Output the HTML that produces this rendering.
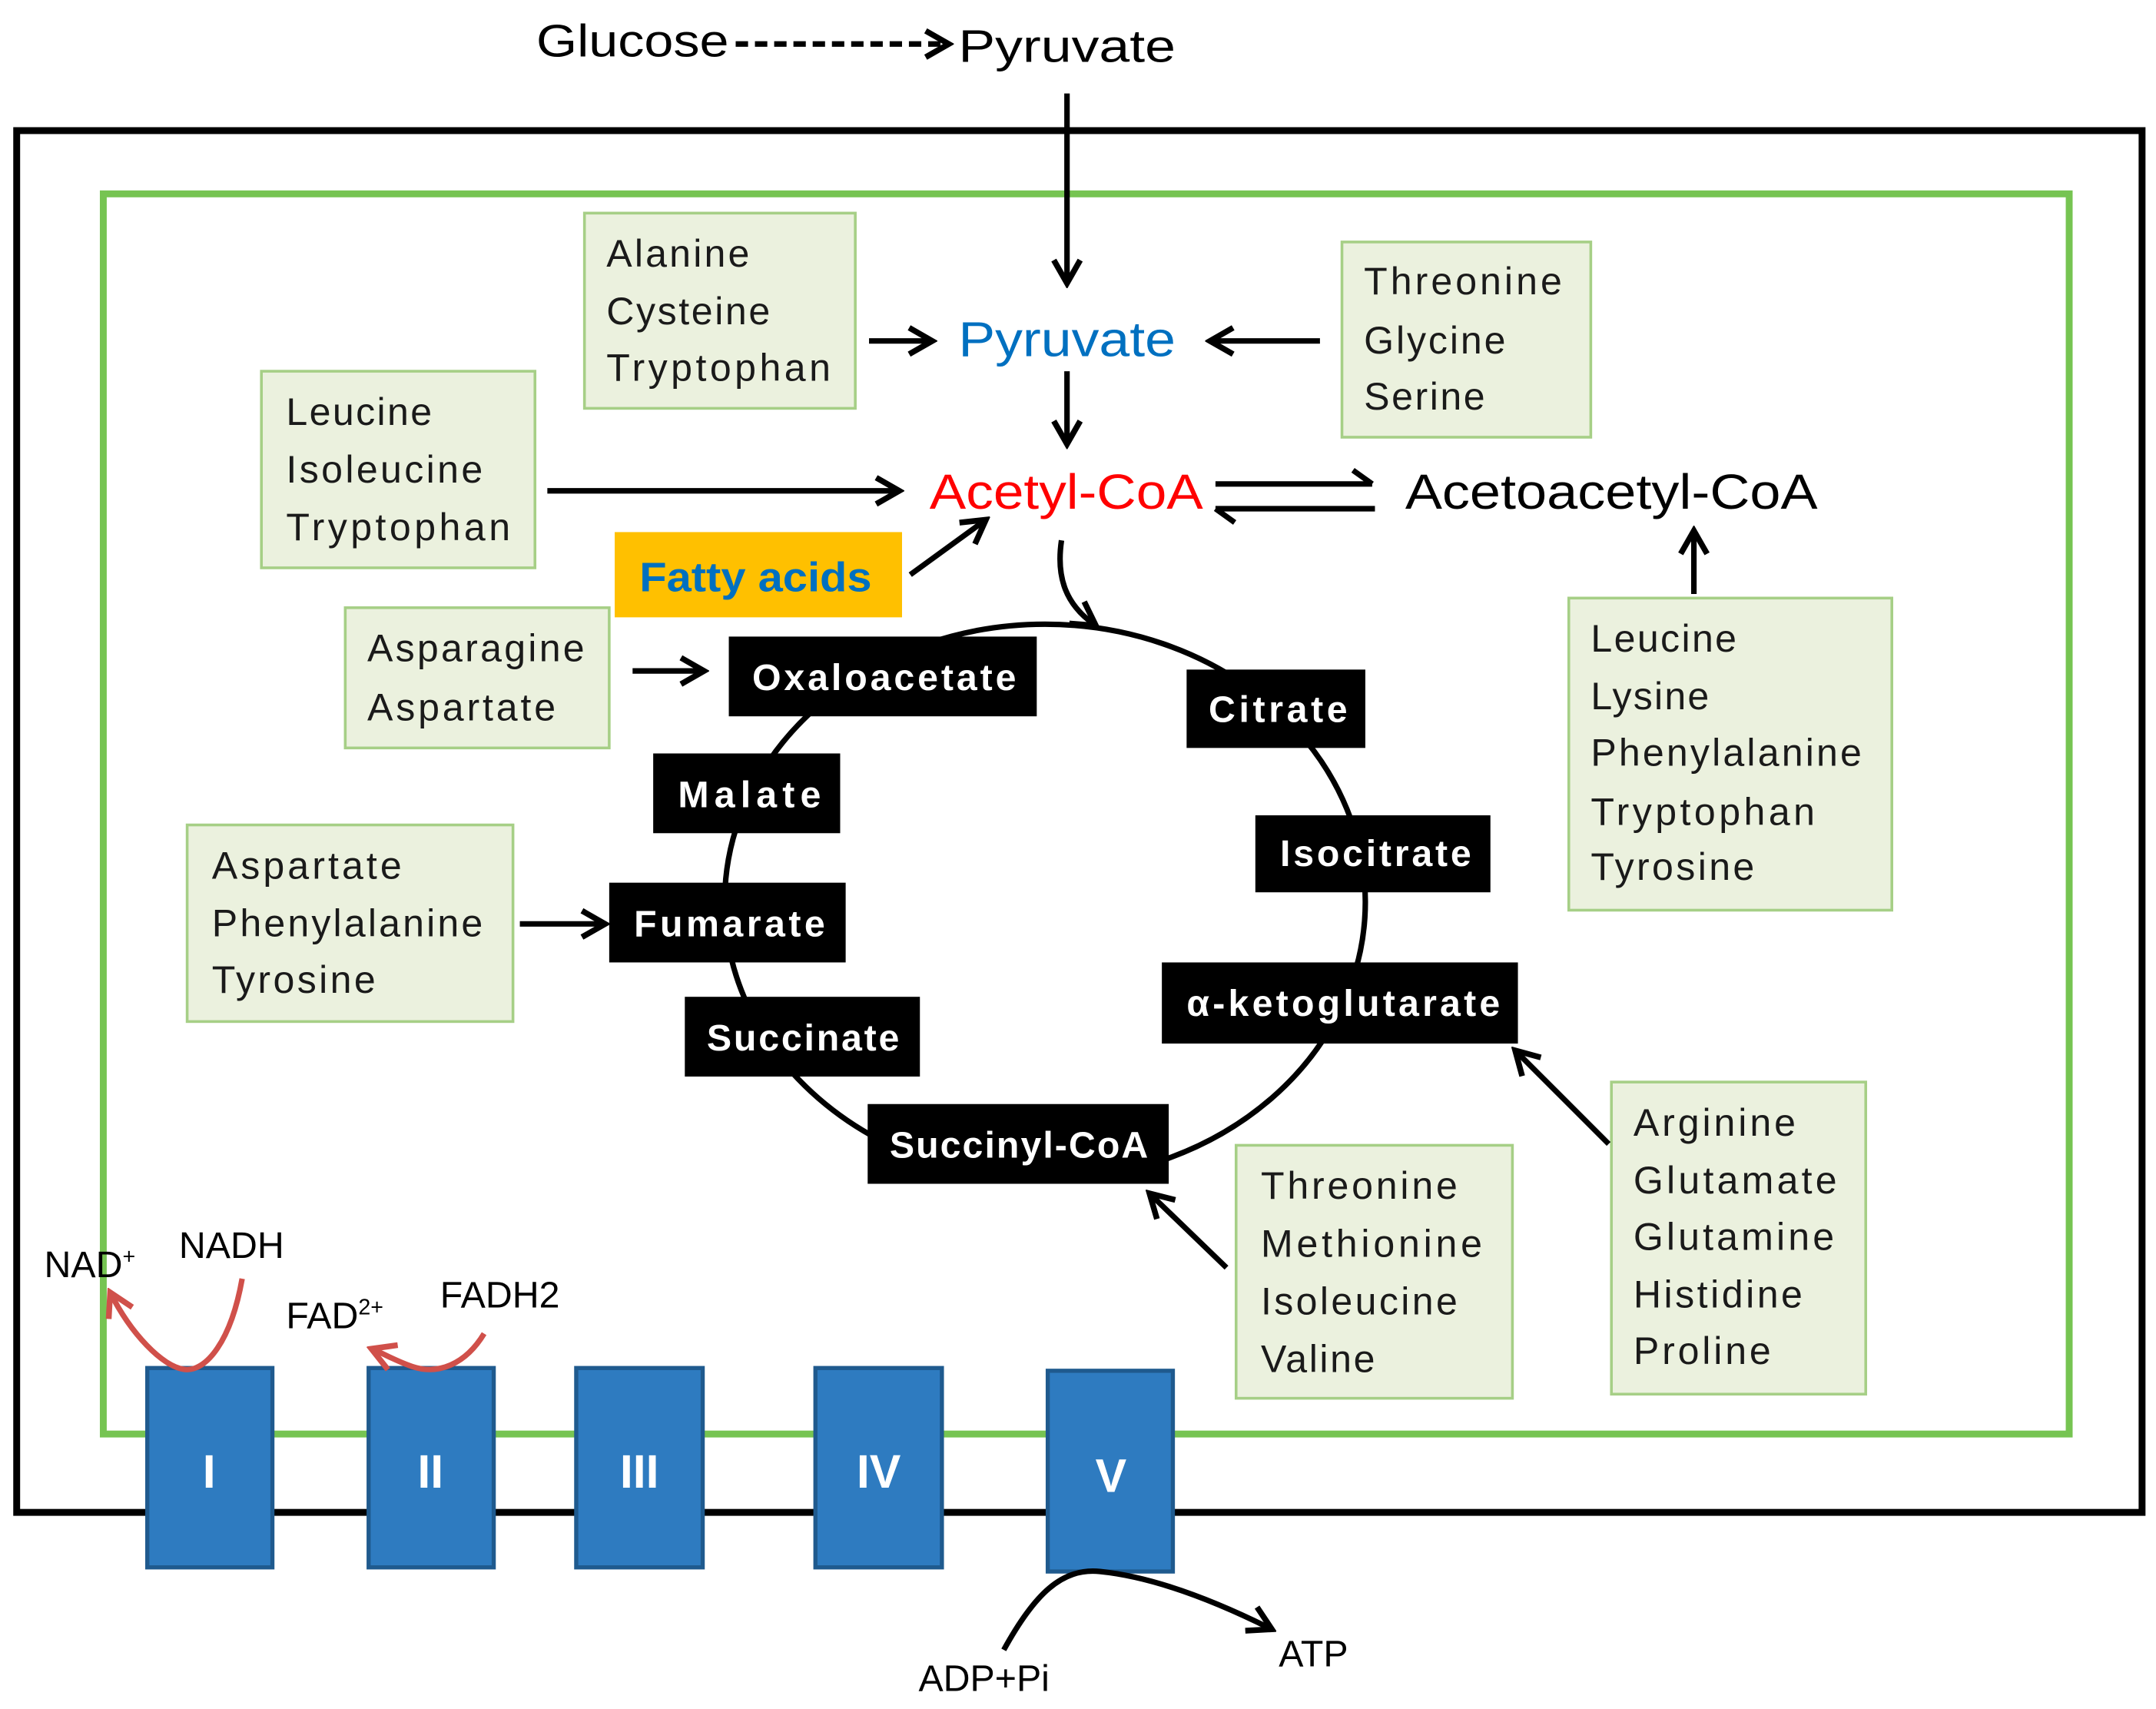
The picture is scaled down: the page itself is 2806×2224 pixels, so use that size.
<!DOCTYPE html>
<html><head><meta charset="utf-8"><style>html,body{margin:0;padding:0;background:#fff}svg{display:block}</style></head>
<body>
<svg width="2806" height="2224" viewBox="0 0 1568 1243" xmlns="http://www.w3.org/2000/svg" font-family="Liberation Sans, sans-serif">
<defs>
<marker id="ab" viewBox="0 0 10 10" refX="8" refY="5" markerWidth="5" markerHeight="5" orient="auto" markerUnits="userSpaceOnUse" style="overflow:visible"><path d="M0,0 L9,5 L0,10" fill="none" stroke="#000" stroke-width="2"/></marker>
<marker id="a" viewBox="0 0 20 20" refX="17" refY="10" markerWidth="24" markerHeight="24" orient="auto" markerUnits="userSpaceOnUse"><path d="M3,2 L17,10 L3,18" fill="none" stroke="#000" stroke-width="3.5"/></marker>
<marker id="ar" viewBox="0 0 20 20" refX="17" refY="10" markerWidth="24" markerHeight="24" orient="auto" markerUnits="userSpaceOnUse"><path d="M3,2 L17,10 L3,18" fill="none" stroke="#d0504a" stroke-width="3.5"/></marker>
</defs>
<rect width="1568" height="1243" fill="#fff"/>
<!-- top -->
<text x="390" y="41" font-size="33" textLength="140" lengthAdjust="spacingAndGlyphs">Glucose</text>
<line x1="535" y1="32" x2="690" y2="32" stroke="#000" stroke-width="4" stroke-dasharray="9,5" marker-end="url(#a)"/>
<text x="697" y="45" font-size="33" textLength="158" lengthAdjust="spacingAndGlyphs">Pyruvate</text>
<!-- outer -->
<rect x="12" y="95" width="1546" height="1005" fill="none" stroke="#000" stroke-width="5"/>
<rect x="75" y="141" width="1430" height="902" fill="none" stroke="#76c452" stroke-width="5"/>
<line x1="776" y1="68" x2="776" y2="206" stroke="#000" stroke-width="4" marker-end="url(#a)"/>
<!-- green boxes -->
<g fill="#ebf1de" stroke="#a6cf86" stroke-width="2">
<rect x="425" y="155" width="197" height="142"/>
<rect x="976" y="176" width="181" height="142"/>
<rect x="190" y="270" width="199" height="143"/>
<rect x="251" y="442" width="192" height="102"/>
<rect x="136" y="600" width="237" height="143"/>
<rect x="1141" y="435" width="235" height="227"/>
<rect x="899" y="833" width="201" height="184"/>
<rect x="1172" y="787" width="185" height="227"/>
</g>
<g font-size="28" fill="#1a1a1a" lengthAdjust="spacingAndGlyphs">
<text x="441" y="194" textLength="104">Alanine</text>
<text x="441" y="236" textLength="119">Cysteine</text>
<text x="441" y="277" textLength="163">Tryptophan</text>
<text x="992" y="214" textLength="144">Threonine</text>
<text x="992" y="257" textLength="103">Glycine</text>
<text x="992" y="298" textLength="88">Serine</text>
<text x="208" y="309" textLength="106">Leucine</text>
<text x="208" y="351" textLength="143">Isoleucine</text>
<text x="208" y="393" textLength="163">Tryptophan</text>
<text x="267" y="481" textLength="158">Asparagine</text>
<text x="267" y="524" textLength="137">Aspartate</text>
<text x="154" y="639" textLength="138">Aspartate</text>
<text x="154" y="681" textLength="197">Phenylalanine</text>
<text x="154" y="722" textLength="119">Tyrosine</text>
<text x="1157" y="474" textLength="106">Leucine</text>
<text x="1157" y="516" textLength="86">Lysine</text>
<text x="1157" y="557" textLength="197">Phenylalanine</text>
<text x="1157" y="600" textLength="163">Tryptophan</text>
<text x="1157" y="640" textLength="119">Tyrosine</text>
<text x="917" y="872" textLength="143">Threonine</text>
<text x="917" y="914" textLength="161">Methionine</text>
<text x="917" y="956" textLength="143">Isoleucine</text>
<text x="917" y="998" textLength="83">Valine</text>
<text x="1188" y="826" textLength="118">Arginine</text>
<text x="1188" y="868" textLength="148">Glutamate</text>
<text x="1188" y="909" textLength="146">Glutamine</text>
<text x="1188" y="951" textLength="123">Histidine</text>
<text x="1188" y="992" textLength="100">Proline</text>
</g>
<!-- main labels -->
<text x="697" y="259" font-size="36" fill="#0070c0" textLength="158" lengthAdjust="spacingAndGlyphs">Pyruvate</text>
<text x="676" y="370" font-size="36" fill="#ff0000" textLength="199" lengthAdjust="spacingAndGlyphs">Acetyl-CoA</text>
<text x="1022" y="370" font-size="36" fill="#000" textLength="300" lengthAdjust="spacingAndGlyphs">Acetoacetyl-CoA</text>
<rect x="447" y="387" width="209" height="62" fill="#ffc000"/>
<text x="465" y="430" font-size="30" font-weight="bold" fill="#0070c0" textLength="169" lengthAdjust="spacingAndGlyphs">Fatty acids</text>
<!-- arrows -->
<g stroke="#000" stroke-width="4" fill="none">
<line x1="632" y1="248" x2="678" y2="248" marker-end="url(#a)"/>
<line x1="960" y1="248" x2="880" y2="248" marker-end="url(#a)"/>
<line x1="776" y1="270" x2="776" y2="323" marker-end="url(#a)"/>
<line x1="398" y1="357" x2="654" y2="357" marker-end="url(#a)"/>
<line x1="662" y1="418" x2="717" y2="378" marker-end="url(#a)"/>
<path d="M884,352 L998,352 M984,342 L998,352 M884,370 L1000,370 M898,380 L884,370"/>
<path d="M772,393 C768,420 775,440 797,455" marker-end="url(#a)"/>
<line x1="460" y1="488" x2="512" y2="488" marker-end="url(#a)"/>
<line x1="378" y1="672" x2="440" y2="672" marker-end="url(#a)"/>
<line x1="1232" y1="432" x2="1232" y2="386" marker-end="url(#a)"/>
<line x1="1170" y1="832" x2="1102" y2="764" marker-end="url(#a)"/>
<line x1="892" y1="922" x2="836" y2="868" marker-end="url(#a)"/>
</g>
<!-- cycle -->
<ellipse cx="760" cy="656" rx="233" ry="202" fill="none" stroke="#000" stroke-width="4"/>
<g fill="#000">
<rect x="530" y="463" width="224" height="58"/>
<rect x="863" y="487" width="130" height="57"/>
<rect x="475" y="548" width="136" height="58"/>
<rect x="913" y="593" width="171" height="56"/>
<rect x="443" y="642" width="172" height="58"/>
<rect x="845" y="700" width="259" height="59"/>
<rect x="498" y="725" width="171" height="58"/>
<rect x="631" y="803" width="219" height="58"/>
</g>
<g font-size="27" font-weight="bold" fill="#fff" lengthAdjust="spacingAndGlyphs">
<text x="547" y="502" textLength="192">Oxaloacetate</text>
<text x="879" y="525" textLength="101">Citrate</text>
<text x="493" y="587" textLength="104">Malate</text>
<text x="931" y="630" textLength="139">Isocitrate</text>
<text x="461" y="681" textLength="139">Fumarate</text>
<text x="863" y="739" textLength="228">α-ketoglutarate</text>
<text x="514" y="764" textLength="140">Succinate</text>
<text x="647" y="842" textLength="188">Succinyl-CoA</text>
</g>
<!-- complexes -->
<g fill="#2e7bc0" stroke="#1f5a8e" stroke-width="3">
<rect x="107" y="995" width="91" height="145"/>
<rect x="268" y="995" width="91" height="145"/>
<rect x="419" y="995" width="92" height="145"/>
<rect x="593" y="995" width="92" height="145"/>
<rect x="762" y="997" width="91" height="146"/>
</g>
<g font-size="34" font-weight="bold" fill="#fff" text-anchor="middle">
<text x="152" y="1082">I</text>
<text x="313" y="1082">II</text>
<text x="465" y="1082">III</text>
<text x="639" y="1082">IV</text>
<text x="808" y="1085">V</text>
</g>
<!-- red arrows -->
<path d="M176,930 C168,975 150,998 134,996 C118,994 95,970 80,940" fill="none" stroke="#d0504a" stroke-width="4" marker-end="url(#ar)"/>
<path d="M352,970 C338,993 318,1000 300,994 C288,990 280,985 270,981" fill="none" stroke="#d0504a" stroke-width="4" marker-end="url(#ar)"/>
<g font-size="27" fill="#000">
<text x="32" y="929">NAD<tspan font-size="16" dy="-10">+</tspan></text>
<text x="130" y="915">NADH</text>
<text x="208" y="966">FAD<tspan font-size="16" dy="-10">2+</tspan></text>
<text x="320" y="951">FADH2</text>
<text x="668" y="1230">ADP+Pi</text>
<text x="930" y="1212">ATP</text>
</g>
<path d="M730,1200 C752,1160 772,1140 800,1143 C840,1147 885,1165 925,1185" fill="none" stroke="#000" stroke-width="4" marker-end="url(#a)"/>
</svg>
</body></html>
